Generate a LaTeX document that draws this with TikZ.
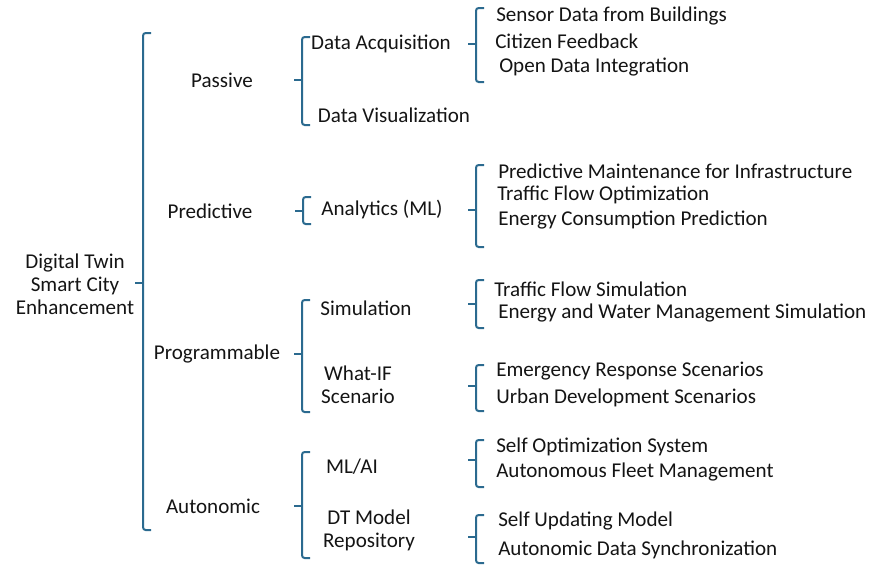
\documentclass[tikz,border=0pt]{standalone}
\usepackage{fontspec}
\setmainfont{Carlito}
\usepackage{tikz}

\definecolor{brk}{RGB}{43,106,143}
\definecolor{ink}{RGB}{20,20,20}

% bracket: x, top, bottom, middle
\newcommand{\tbracket}[4]{%
    \draw [brkline] (#1+8,#2) -- (#1,#2) -- (#1,#3) -- (#1+8,#3) ;
    \draw [brkline] (#1,#4) -- (#1-8,#4) ;
}

\begin{document}
\begin{tikzpicture}[x=0.75pt,y=0.75pt,yscale=-1,xscale=1,
    brkline/.style={color=brk, line width=1.5pt, rounded corners=2pt},
    txt/.style={inner sep=0pt, text=ink, font=\fontsize{15.8}{17.3}\selectfont, align=center},
    leaf/.style={txt, anchor=west}]
    \useasboundingbox (0,0) rectangle (869,565);

    %Shape: Bracket [root]
    \tbracket{143}{33}{530}{283}

    %Shape: Bracket [level 1]
    \tbracket{302}{37}{125}{80}
    \tbracket{303}{197}{224}{211}
    \tbracket{302}{300}{412}{354}
    \tbracket{302}{452}{558}{506}

    %Shape: Bracket [level 2]
    \tbracket{476}{8}{82}{44}
    \tbracket{476}{165}{247}{210}
    \tbracket{476}{280}{328}{304}
    \tbracket{476}{365}{411}{386}
    \tbracket{476}{440}{487}{460}
    \tbracket{476}{515}{563}{537}

    % Text Node
    \node [txt] (root) at (75,284) {Digital Twin\\Smart City\\Enhancement};

    % Text Node
    \node [txt] (passive) at (222,80) {Passive};
    \node [txt] (predictive) at (210,211) {Predictive};
    \node [txt] (programmable) at (217,354) {Programmable};
    \node [txt] (autonomic) at (213,506) {Autonomic};

    % Text Node
    \node [txt] (acq) at (381,44) {Data Acquisition};
    \node [txt] (vis) at (394,115) {Data Visualization};
    \node [txt] (analytics) at (382,209) {Analytics (ML)};
    \node [txt] (sim) at (366,308) {Simulation};
    \node [txt] (whatif) at (358,385) {What-IF\\Scenario};
    \node [txt] (mlai) at (352,467) {ML/AI};
    \node [txt] (repo) at (369,530) {DT Model\\Repository};

    % Text Node
    \node [leaf] (sensor) at (496,16) {Sensor Data from Buildings};
    \node [leaf] (citizen) at (495,41) {Citizen Feedback};
    \node [leaf] (open) at (499,67) {Open Data Integration};
    \node [leaf] (maint) at (498,171) {Predictive Maintenance for Infrastructure};
    \node [leaf] (trafopt) at (497,195) {Traffic Flow Optimization};
    \node [leaf] (energy) at (498,220) {Energy Consumption Prediction};
    \node [leaf] (trafsim) at (494,289) {Traffic Flow Simulation};
    \node [leaf] (water) at (498,313) {Energy and Water Management Simulation};
    \node [leaf] (emerg) at (496,371) {Emergency Response Scenarios};
    \node [leaf] (urban) at (496,398) {Urban Development Scenarios};
    \node [leaf] (selfopt) at (496,447) {Self Optimization System};
    \node [leaf] (fleet) at (496,472) {Autonomous Fleet Management};
    \node [leaf] (selfupd) at (498,521) {Self Updating Model};
    \node [leaf] (sync) at (498,550) {Autonomic Data Synchronization};

\end{tikzpicture}
\end{document}
